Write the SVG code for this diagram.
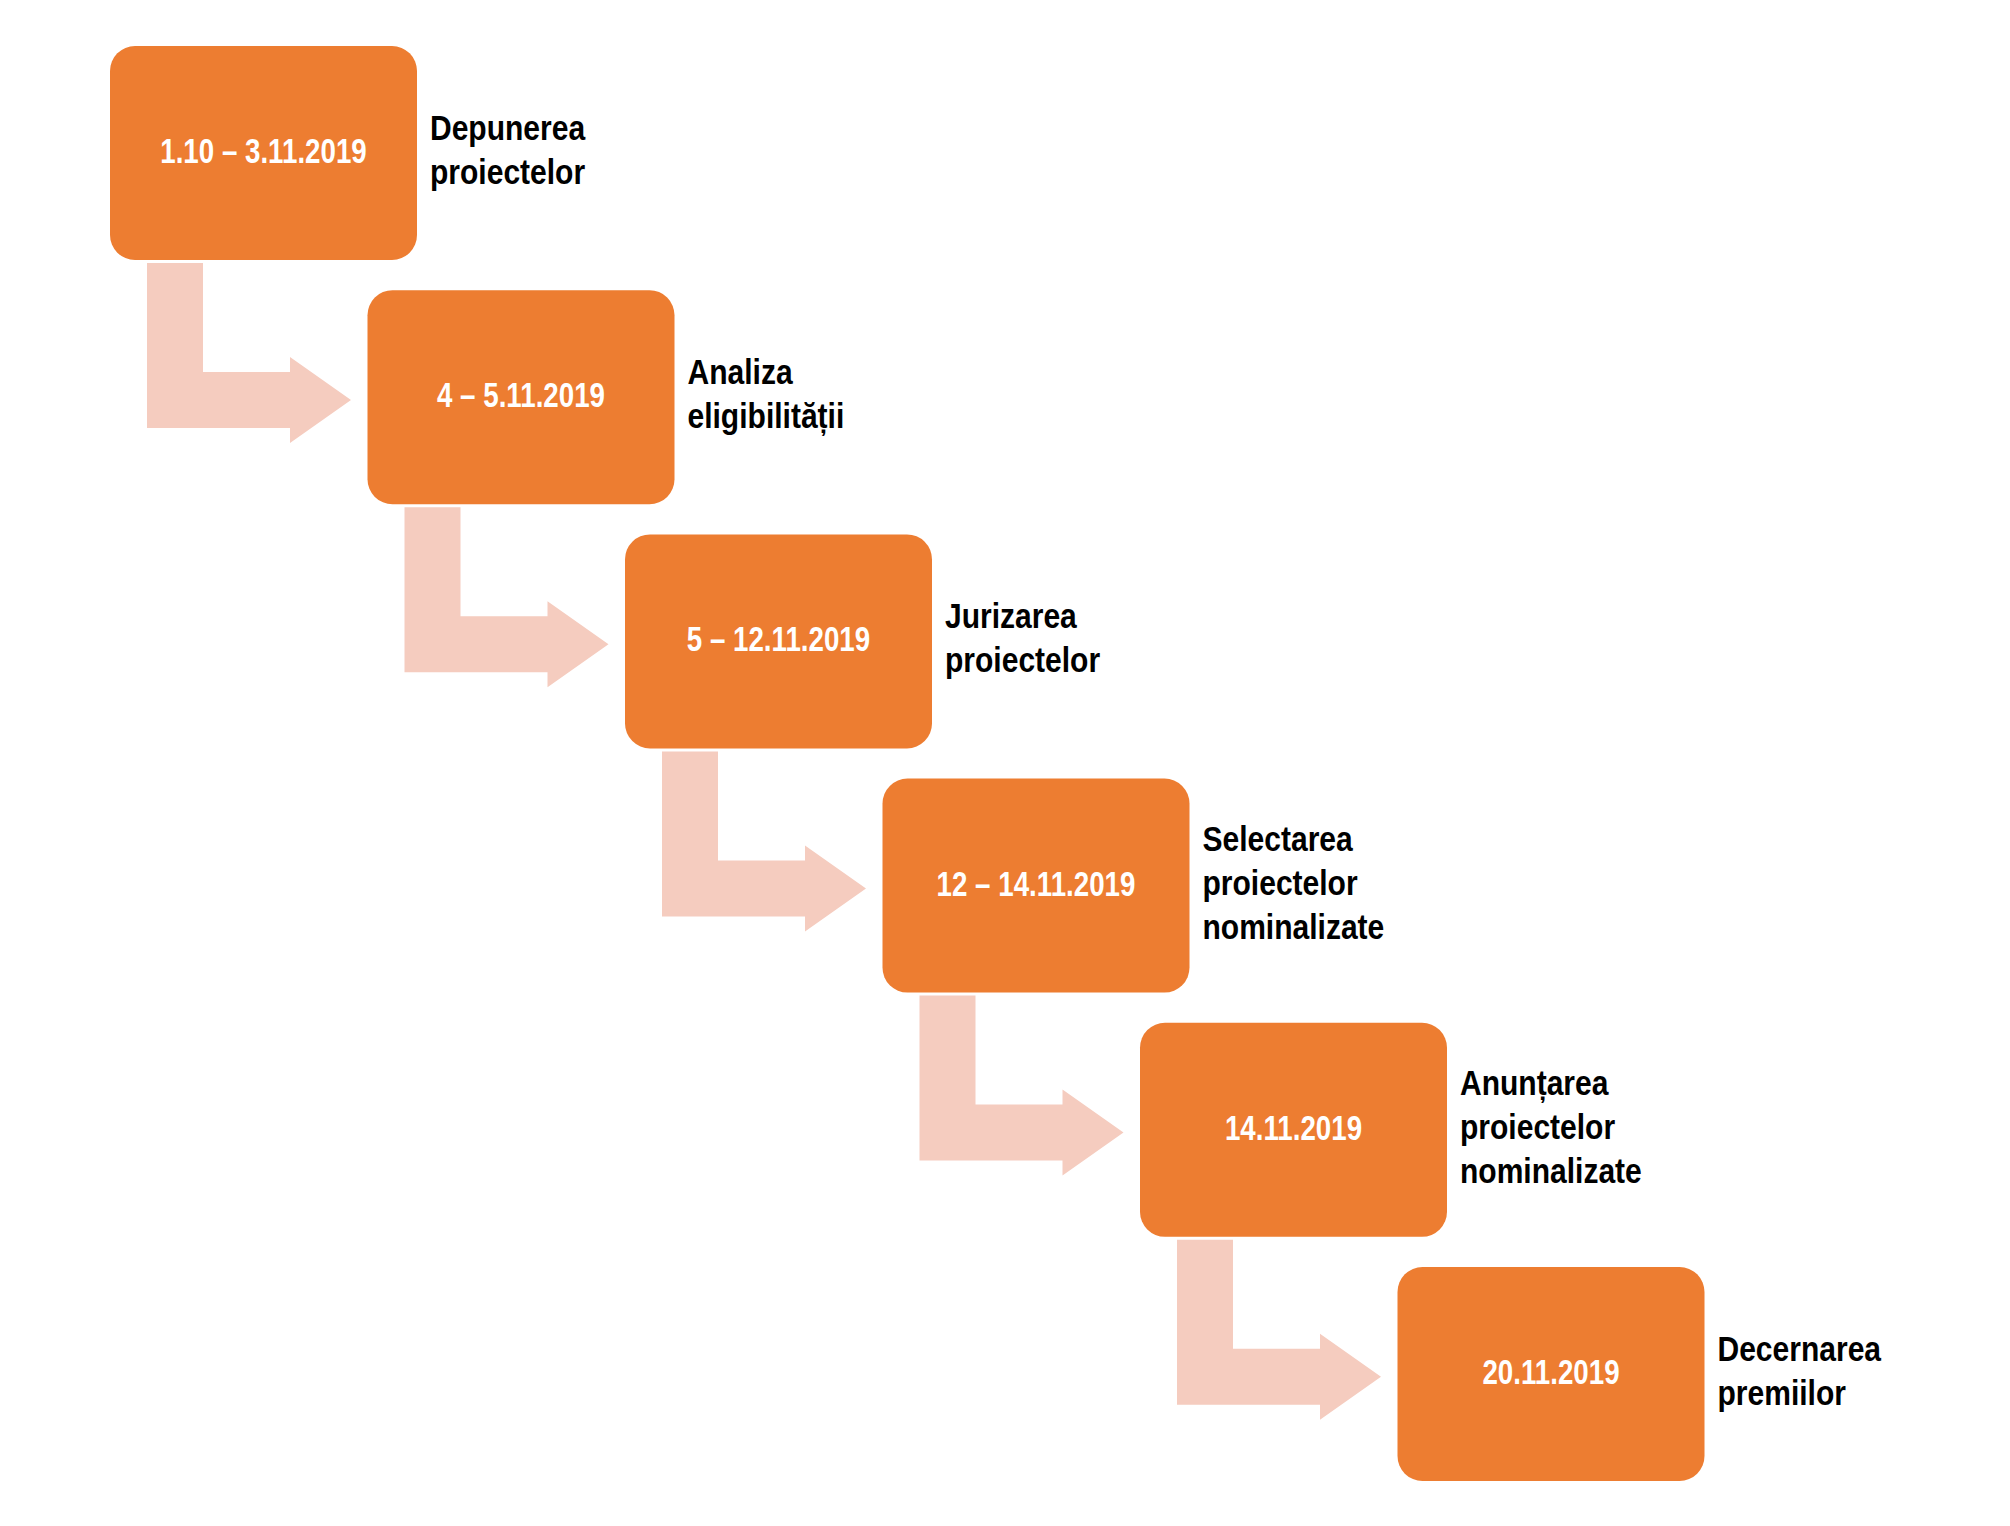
<svg xmlns="http://www.w3.org/2000/svg" xmlns:xlink="http://www.w3.org/1999/xlink" width="2010" height="1526" viewBox="0 0 2010 1526">
<style>
.box{fill:#ED7D31;}
.arr{fill:#F5CCBF;}
.date{font-family:"Liberation Sans",Arial,sans-serif;font-weight:bold;font-size:35px;fill:#FFFFFF;text-anchor:middle;}
.lbl{font-family:"Liberation Sans",Arial,sans-serif;font-weight:bold;font-size:35px;fill:#000000;}
</style>
<defs>
<path id="arrow" d="M37,217 H93 V326 H180 V311 L241,354 L180,397 V382 H37 Z"/>
</defs>
<rect width="2010" height="1526" fill="#FFFFFF"/>
<g id="connectors" class="arr">
<use xlink:href="#arrow" href="#arrow" x="110" y="46"/>
<use xlink:href="#arrow" href="#arrow" x="367.5" y="290.2"/>
<use xlink:href="#arrow" href="#arrow" x="625" y="534.4"/>
<use xlink:href="#arrow" href="#arrow" x="882.5" y="778.6"/>
<use xlink:href="#arrow" href="#arrow" x="1140" y="1022.8"/>
</g>
<g id="node1">
<rect class="box" x="110" y="46" width="307" height="214" rx="25"/>
<text class="date" transform="translate(263.5,163) scale(0.792,1)">1.10 – 3.11.2019</text>
<text class="lbl" transform="translate(430,140) scale(0.858,1)">Depunerea</text>
<text class="lbl" transform="translate(430,184) scale(0.858,1)">proiectelor</text>
</g>
<g id="node2">
<rect class="box" x="367.5" y="290.2" width="307" height="214" rx="25"/>
<text class="date" transform="translate(521,407.2) scale(0.792,1)">4 – 5.11.2019</text>
<text class="lbl" transform="translate(687.5,384.2) scale(0.858,1)">Analiza</text>
<text class="lbl" transform="translate(687.5,428.2) scale(0.858,1)">eligibilității</text>
</g>
<g id="node3">
<rect class="box" x="625" y="534.4" width="307" height="214" rx="25"/>
<text class="date" transform="translate(778.5,651.4) scale(0.792,1)">5 – 12.11.2019</text>
<text class="lbl" transform="translate(945,628.4) scale(0.858,1)">Jurizarea</text>
<text class="lbl" transform="translate(945,672.4) scale(0.858,1)">proiectelor</text>
</g>
<g id="node4">
<rect class="box" x="882.5" y="778.6" width="307" height="214" rx="25"/>
<text class="date" transform="translate(1036,895.6) scale(0.792,1)">12 – 14.11.2019</text>
<text class="lbl" transform="translate(1202.5,850.6) scale(0.858,1)">Selectarea</text>
<text class="lbl" transform="translate(1202.5,894.6) scale(0.858,1)">proiectelor</text>
<text class="lbl" transform="translate(1202.5,938.6) scale(0.858,1)">nominalizate</text>
</g>
<g id="node5">
<rect class="box" x="1140" y="1022.8" width="307" height="214" rx="25"/>
<text class="date" transform="translate(1293.5,1139.8) scale(0.792,1)">14.11.2019</text>
<text class="lbl" transform="translate(1460,1094.8) scale(0.858,1)">Anunțarea</text>
<text class="lbl" transform="translate(1460,1138.8) scale(0.858,1)">proiectelor</text>
<text class="lbl" transform="translate(1460,1182.8) scale(0.858,1)">nominalizate</text>
</g>
<g id="node6">
<rect class="box" x="1397.5" y="1267" width="307" height="214" rx="25"/>
<text class="date" transform="translate(1551,1384) scale(0.792,1)">20.11.2019</text>
<text class="lbl" transform="translate(1717.5,1361) scale(0.858,1)">Decernarea</text>
<text class="lbl" transform="translate(1717.5,1405) scale(0.858,1)">premiilor</text>
</g>
</svg>
